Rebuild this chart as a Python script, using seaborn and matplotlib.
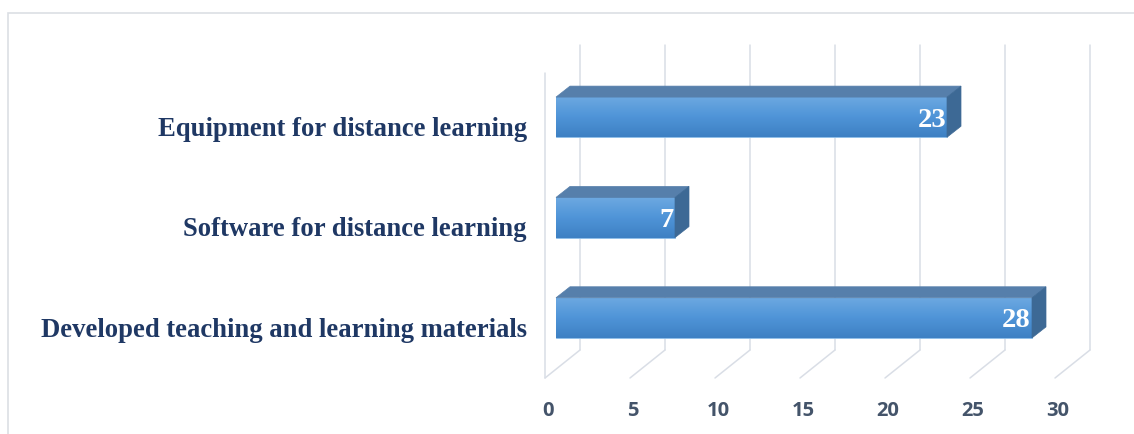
import numpy as np
import pandas as pd
import seaborn as sns
import matplotlib.pyplot as plt
from matplotlib.lines import Line2D
from matplotlib.patches import Polygon, Rectangle
from matplotlib.transforms import ScaledTranslation, IdentityTransform
from matplotlib.colors import LinearSegmentedColormap

# data
categories = [
    "Equipment for distance learning",
    "Software for distance learning",
    "Developed teaching and learning materials",
]
counts = [23, 7, 28]
x_ticks = [0, 5, 10, 15, 20, 25, 30]

df = pd.DataFrame({"category": categories, "count": counts})

W, H = 1134, 434
sns.set_style("white")
fig = plt.figure(figsize=(W / 100, H / 100), dpi=100)
ax = fig.add_axes([556 / W, (H - 368) / H, 510 / W, 301 / H])

sns.barplot(data=df, x="count", y="category", orient="h", width=0.4,
            color="#5398DB", saturation=1, ax=ax, zorder=3)
ax.set_xlim(0, 30)
ax.set_ylim(2.5, -0.5)
sns.despine(ax=ax, left=True, bottom=True)
ax.set_xlabel("")
ax.set_ylabel("")

grid_c = "#D9DEE6"
ident = IdentityTransform()


def disp(xv, yv):
    return ax.transData.transform((xv, yv))


# 3d walls / gridlines (pixel offsets for depth)
front_dx, back_dx = -11, 24
for t in x_ticks:
    xb = disp(t, 0)[0] + back_dx
    xf = disp(t, 0)[0] + front_dx
    ax.add_line(Line2D([xb, xb], [H - 45, H - 350], color=grid_c, lw=1.1,
                       transform=ident, clip_on=False, zorder=1))
    ax.add_line(Line2D([xb, xf], [H - 350, H - 378], color=grid_c, lw=1.1,
                       transform=ident, clip_on=False, zorder=1))
x0f = disp(0, 0)[0] + front_dx
ax.add_line(Line2D([x0f, x0f], [H - 73, H - 378], color=grid_c, lw=1.1,
                   transform=ident, clip_on=False, zorder=1))

# gradient front faces + top/side faces
cmap = LinearSegmentedColormap.from_list("bar", ["#6DA9E1", "#4F94D8", "#3E80C3"])
grad = np.linspace(0, 1, 64).reshape(-1, 1)
ddx, ddy = 14, 11
for p in ax.patches:
    x0, y0, w, h = p.get_x(), p.get_y(), p.get_width(), p.get_height()
    im = ax.imshow(grad, cmap=cmap, aspect="auto", origin="upper",
                   extent=(x0, x0 + w, y0 + h, y0), zorder=3.5)
    im.set_clip_path(p)
    p.set_edgecolor("#8DBDE8")
    p.set_linewidth(0.6)
    tl, tr = disp(x0, y0), disp(x0 + w, y0)
    br = disp(x0 + w, y0 + h)
    off = np.array([ddx, ddy])
    top = Polygon([tl, tr, tr + off, tl + off], closed=True, transform=ident,
                  facecolor="#567FAB", edgecolor="#567FAB", lw=0.5,
                  clip_on=False, zorder=4)
    side = Polygon([tr, br, br + off, tr + off], closed=True, transform=ident,
                   facecolor="#3D6995", edgecolor="#3D6995", lw=0.5,
                   clip_on=False, zorder=4)
    ax.add_patch(top)
    ax.add_patch(side)

ax.set_xlim(0, 30)
ax.set_ylim(2.5, -0.5)

# value labels
for i, v in enumerate(counts):
    ax.text(v, i, str(v), ha="right", va="center", color="white",
            family="Liberation Serif", fontweight="bold", fontsize=20.5,
            zorder=5,
            transform=ax.transData + ScaledTranslation(-0.01, -0.03, fig.dpi_scale_trans))

# ticks
ax.set_xticks(x_ticks)
ax.set_xticklabels([str(t) for t in x_ticks], family="Open Sans",
                   fontweight="bold", fontsize=14.5, color="#44546A")
ax.tick_params(axis="x", length=0, pad=24)
for lbl in ax.get_xticklabels():
    lbl.set_transform(lbl.get_transform() + ScaledTranslation(-0.08, 0, fig.dpi_scale_trans))

ax.set_yticks(range(len(categories)))
ax.set_yticklabels(categories, family="Liberation Serif", fontweight="bold",
                   fontsize=19.2, color="#1F3864")
ax.tick_params(axis="y", length=0, pad=21)
for lbl in ax.get_yticklabels():
    lbl.set_va("baseline")
    lbl.set_transform(lbl.get_transform() + ScaledTranslation(0, -0.19, fig.dpi_scale_trans))

# outer border
fig.add_artist(Rectangle((8, -10), 1140, H - 13 + 10, fill=False,
                         edgecolor="#DCDFE4", lw=1.2, transform=ident))

fig.savefig("out.png", dpi=100)
